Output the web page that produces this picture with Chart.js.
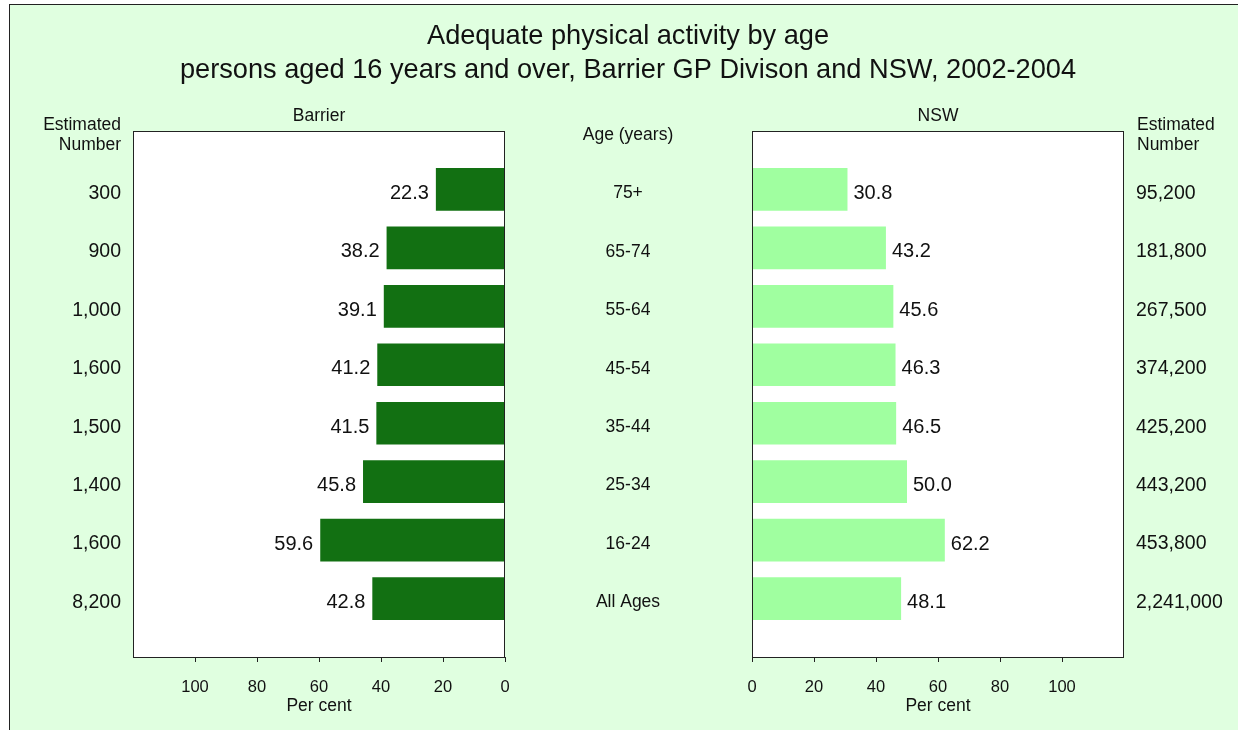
<!DOCTYPE html>
<html><head><meta charset="utf-8">
<script src="https://cdn.jsdelivr.net/npm/chart.js@4.4.1/dist/chart.umd.min.js"></script>
<style>
html,body{margin:0;padding:0;background:#fff;width:1238px;height:730px;overflow:hidden}
#bg{position:absolute;left:9px;top:4px;width:1229px;height:726px;background:#E0FFE0;border-left:1px solid #222;border-top:1px solid #222;box-sizing:border-box}
canvas{position:absolute;left:0;top:0}
</style></head><body>
<div id="bg"></div>
<canvas id="cL" width="1238" height="730"></canvas>
<canvas id="cR" width="1238" height="730"></canvas>
<script>
const ageGroups = ['75+','65-74','55-64','45-54','35-44','25-34','16-24','All Ages'];
const barrierPct = [22.3, 38.2, 39.1, 41.2, 41.5, 45.8, 59.6, 42.8];
const nswPct = [30.8, 43.2, 45.6, 46.3, 46.5, 50.0, 62.2, 48.1];
const barrierEstimated = ['300','900','1,000','1,600','1,500','1,400','1,600','8,200'];
const nswEstimated = ['95,200','181,800','267,500','374,200','425,200','443,200','453,800','2,241,000'];
const xTickValues = [0,20,40,60,80,100];
const titleLines = ['Adequate physical activity by age','persons aged 16 years and over, Barrier GP Divison and NSW, 2002-2004'];

const FONT = "'Liberation Sans', Arial, sans-serif";
const TXT = '#111';
const catLabels = ['', ...ageGroups, ''];

const framePlugin = {
  id: 'frame',
  beforeDraw(chart) {
    const {ctx, chartArea: a} = chart;
    ctx.save(); ctx.fillStyle = '#fff';
    ctx.fillRect(a.left, a.top, a.right - a.left, a.bottom - a.top);
    ctx.restore();
  },
  afterDatasetsDraw(chart) {
    const {ctx, chartArea: a} = chart;
    ctx.save(); ctx.strokeStyle = '#222'; ctx.lineWidth = 1;
    ctx.strokeRect(Math.round(a.left) + 0.5, Math.round(a.top) + 0.5, Math.round(a.right - a.left) - 1, Math.round(a.bottom - a.top));
    ctx.restore();
  }
};

function valueLabels(side) {
  return {
    id: 'valueLabels' + side,
    afterDatasetsDraw(chart) {
      const {ctx} = chart;
      const meta = chart.getDatasetMeta(0);
      const data = chart.data.datasets[0].data;
      ctx.save();
      ctx.font = '20px ' + FONT; ctx.fillStyle = TXT; ctx.textBaseline = 'middle';
      meta.data.forEach((el, i) => {
        const v = data[i];
        if (v == null) return;
        if (side === 'L') { ctx.textAlign = 'right'; ctx.fillText(v.toFixed(1), el.x - 7, el.y + 4); }
        else { ctx.textAlign = 'left'; ctx.fillText(v.toFixed(1), el.x + 6, el.y + 4); }
      });
      ctx.restore();
    }
  };
}

const textPlugin = {
  id: 'texts',
  afterDraw(chart) {
    const {ctx} = chart;
    const y = chart.scales.y;
    ctx.save();
    ctx.fillStyle = TXT; ctx.textBaseline = 'middle'; ctx.textAlign = 'center';
    ctx.font = '27.2px ' + FONT;
    ctx.fillText(titleLines[0], 628, 37);
    ctx.fillText(titleLines[1], 628, 71);
    ctx.font = '17.5px ' + FONT;
    ctx.fillText('Barrier', 319, 116);
    ctx.fillText('NSW', 938, 116);
    ctx.fillText('Age (years)', 628, 135);
    ageGroups.forEach((g, i) => ctx.fillText(g, 628, y.getPixelForValue(i + 1) + 4));
    ctx.textAlign = 'right';
    ctx.fillText('Estimated', 121, 125);
    ctx.fillText('Number', 121, 145);
    ctx.textAlign = 'left';
    ctx.fillText('Estimated', 1137, 125);
    ctx.fillText('Number', 1137, 145);
    ctx.restore();
  }
};

function makeOpts(side) {
  const left = side === 'L';
  const est = left ? barrierEstimated : nswEstimated;
  return {
    responsive: false,
    animation: false,
    indexAxis: 'y',
    layout: { padding: left ? {left: 0, top: 131, right: 1238 - 505, bottom: 13} : {left: 752, top: 131, right: 0, bottom: 13} },
    plugins: { legend: {display: false}, tooltip: {enabled: false}, title: {display: false} },
    scales: {
      x: {
        type: 'linear', min: 0, max: 120, reverse: left,
        afterBuildTicks: s => { s.ticks = xTickValues.map(v => ({value: v})); },
        afterFit: s => { s.height = 60; },
        grid: { drawOnChartArea: false, drawTicks: true, tickLength: 5, color: '#222' },
        border: { display: false },
        ticks: { font: {size: 16.5, family: FONT}, color: TXT, padding: 16, maxRotation: 0 },
        title: { display: true, text: 'Per cent', font: {size: 17.5, family: FONT}, color: TXT, padding: {top: 0, bottom: 0} }
      },
      y: {
        type: 'category', offset: false, position: left ? 'left' : 'right',
        afterFit: s => { s.width = left ? 133 : 1238 - 1124; },
        grid: { display: false, drawTicks: false },
        border: { display: false },
        ticks: {
          autoSkip: false, font: {size: 19.5, family: FONT}, color: TXT, padding: 12, labelOffset: 4,
          callback: (val, idx) => (idx >= 1 && idx <= est.length) ? est[idx - 1] : ''
        }
      }
    }
  };
}

new Chart(document.getElementById('cL'), {
  type: 'bar',
  data: { labels: catLabels, datasets: [{ data: [null, ...barrierPct, null], backgroundColor: '#127012', barPercentage: 0.73, categoryPercentage: 1 }] },
  options: makeOpts('L'),
  plugins: [framePlugin, valueLabels('L'), textPlugin]
});
new Chart(document.getElementById('cR'), {
  type: 'bar',
  data: { labels: catLabels, datasets: [{ data: [null, ...nswPct, null], backgroundColor: '#A0FFA0', barPercentage: 0.73, categoryPercentage: 1 }] },
  options: makeOpts('R'),
  plugins: [framePlugin, valueLabels('R')]
});
</script>
</body></html>
